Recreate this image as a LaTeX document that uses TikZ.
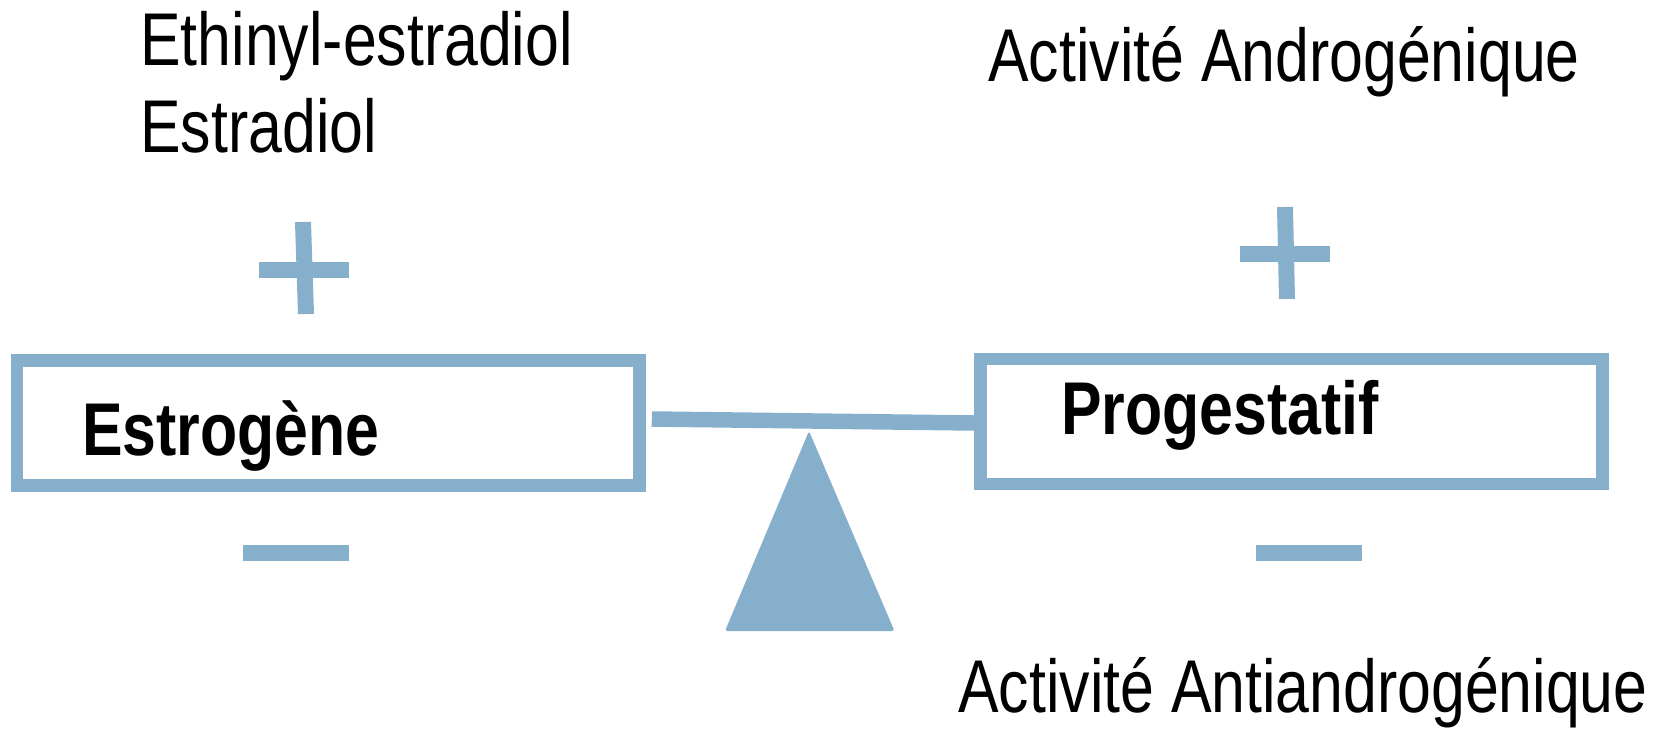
\documentclass[tikz,border=0pt]{standalone}
\usepackage{fontspec}
\setmainfont{Liberation Sans}
\usetikzlibrary{positioning}
\definecolor{balance}{RGB}{133,175,203}
\newcommand{\tall}[1]{\scalebox{1}[1.23]{#1}}

\begin{document}
\begin{tikzpicture}[x=0.02cm, y=-0.02cm,
	box/.style={rectangle, draw=balance, line width=0.254cm, minimum width=12.45cm, minimum height=2.5cm, inner sep=0},
	lbl/.style={inner sep=0, anchor=base west, font=\fontsize{34.6}{41}\selectfont},
	sign/.style={draw=balance, line width=0.32cm}]
	\useasboundingbox (0,0) rectangle (1658,728);

	% the two pans
	\node[box] (E) at (328.25,423) {};
	\node[box] (P) at (1291.5,421.5) {};
	\node[lbl] (estro) at (82,455) {\tall{\textbf{Estrogène}}};
	\node[lbl] (prog) at (1061,434) {\tall{\textbf{Progestatif}}};

	% beam and pivot
	\draw[draw=balance, line width=0.31cm] ([shift={(6,-4)}]E.east) -- ([shift={(0,1.5)}]P.west);
	\fill[balance, rounded corners=0.05cm] (809,431) -- (894.5,631) -- (725,631) -- cycle;

	% texts
	\node[lbl] (ethinyl) at (140,65) {\tall{Ethinyl-estradiol}};
	\node[lbl] (estradiol) at (140,152) {\tall{Estradiol}};
	\node[lbl] (andro) at (988,81) {\tall{Activité Androgénique}};
	\node[lbl] (anti) at (958,712) {\tall{Activité Antiandrogénique}};

	% plus and minus
	\draw[sign] (303,222) -- (306,314);
	\draw[sign] (259,269.5) -- (349,269.5);
	\draw[sign] (1285,207) -- (1287,299);
	\draw[sign] (1240,254) -- (1330,254);
	\draw[sign] (243,553) -- (349,553);
	\draw[sign] (1256,553) -- (1362,553);
\end{tikzpicture}
\end{document}
